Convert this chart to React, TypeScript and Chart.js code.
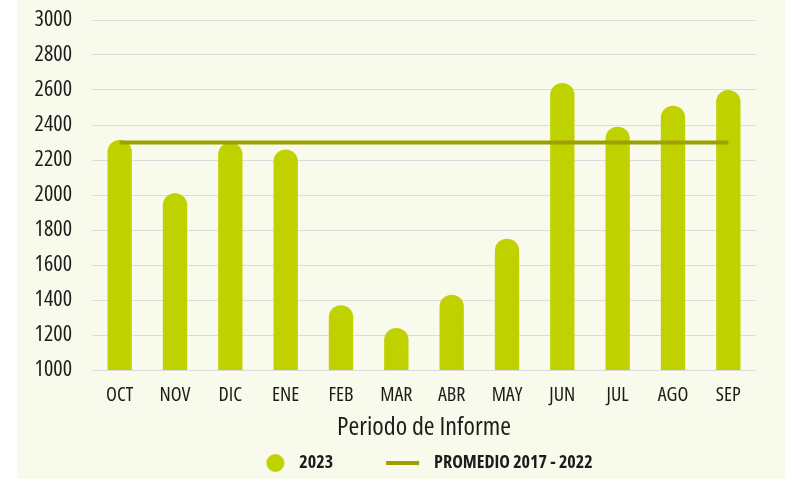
import React, { useEffect, useRef } from 'react';
import { Chart, registerables } from 'chart.js';

Chart.register(...registerables);

const CATEGORIES = ['OCT', 'NOV', 'DIC', 'ENE', 'FEB', 'MAR', 'ABR', 'MAY', 'JUN', 'JUL', 'AGO', 'SEP'];
const VALUES_2023 = [2315, 2010, 2300, 2260, 1370, 1240, 1430, 1750, 2640, 2390, 2510, 2600];
const PROMEDIO_2017_2022 = [2300, 2300, 2300, 2300, 2300, 2300, 2300, 2300, 2300, 2300, 2300, 2300];
const SERIES_LABELS = ['2023', 'PROMEDIO 2017 - 2022'];
const X_TITLE = 'Periodo de Informe';
const Y_MIN = 1000;
const Y_MAX = 3000;
const Y_STEP = 200;

const BAR_COLOR = '#C0D100';
const LINE_COLOR = '#9EA000';
const BG_COLOR = '#F8FAEB';
const TEXT_COLOR = '#1c1c1c';
const GRID_COLOR = '#dcdcdc';
const FONT = "'Open Sans', 'Roboto Condensed', sans-serif";

function makeCircleMarker(): HTMLCanvasElement {
  const c = document.createElement('canvas');
  c.width = 79;
  c.height = 18;
  const ctx = c.getContext('2d')!;
  ctx.fillStyle = BAR_COLOR;
  ctx.beginPath();
  ctx.arc(64, 9, 9, 0, Math.PI * 2);
  ctx.fill();
  return c;
}

function makeLineMarker(): HTMLCanvasElement {
  const c = document.createElement('canvas');
  c.width = 79;
  c.height = 4;
  const ctx = c.getContext('2d')!;
  ctx.fillStyle = LINE_COLOR;
  ctx.fillRect(40, 0, 33, 4);
  return c;
}

const unclipYLabels = {
  id: 'unclipYLabels',
  afterLayout(chart: any) {
    if (chart.scales.y) chart.scales.y.left = 0;
  },
};

export default function App() {
  const canvasRef = useRef<HTMLCanvasElement | null>(null);

  useEffect(() => {
    if (!canvasRef.current) return;
    const circleMarker = makeCircleMarker();
    const lineMarker = makeLineMarker();

    const chart = new Chart(canvasRef.current, {
      type: 'bar',
      data: {
        labels: CATEGORIES,
        datasets: [
          {
            type: 'line',
            label: SERIES_LABELS[1],
            data: PROMEDIO_2017_2022,
            borderColor: LINE_COLOR,
            backgroundColor: LINE_COLOR,
            borderWidth: 4,
            pointRadius: 0,
            fill: false,
            order: 0,
          } as any,
          {
            type: 'bar',
            label: SERIES_LABELS[0],
            data: VALUES_2023,
            backgroundColor: BAR_COLOR,
            borderRadius: 12,
            borderSkipped: 'start',
            barPercentage: 0.44,
            categoryPercentage: 1,
            order: 1,
          } as any,
        ],
      },
      plugins: [unclipYLabels],
      options: {
        responsive: false,
        animation: false,
        devicePixelRatio: 1,
        layout: { padding: { left: 31, right: 29, top: 20, bottom: -3 } },
        plugins: {
          tooltip: { enabled: false },
          legend: {
            position: 'bottom',
            labels: {
              usePointStyle: true,
              pointStyleWidth: 79,
              boxHeight: 18,
              padding: 13,
              color: TEXT_COLOR,
              font: { family: FONT, size: 18, weight: 'bold condensed' as any },
              generateLabels: () => [
                {
                  text: SERIES_LABELS[0],
                  pointStyle: circleMarker as any,
                  fillStyle: BAR_COLOR,
                  strokeStyle: BAR_COLOR,
                  lineWidth: 0,
                  hidden: false,
                  datasetIndex: 1,
                  fontColor: TEXT_COLOR,
                },
                {
                  text: SERIES_LABELS[1],
                  pointStyle: lineMarker as any,
                  fillStyle: LINE_COLOR,
                  strokeStyle: LINE_COLOR,
                  lineWidth: 0,
                  hidden: false,
                  datasetIndex: 0,
                  fontColor: TEXT_COLOR,
                },
              ],
            },
          },
        },
        scales: {
          x: {
            grid: { display: false, drawTicks: false },
            border: { display: false },
            ticks: {
              color: TEXT_COLOR,
              font: { family: FONT, size: 20, weight: 'condensed' as any },
              padding: 13,
              maxRotation: 0,
              autoSkip: false,
            },
            title: {
              display: true,
              text: X_TITLE,
              color: TEXT_COLOR,
              font: { family: FONT, size: 26, weight: 'condensed' as any, lineHeight: '16px' },
              padding: { top: 0, bottom: 5 },
            },
          },
          y: {
            min: Y_MIN,
            max: Y_MAX,
            grid: {
              color: GRID_COLOR,
              drawTicks: true,
              tickLength: 20,
              tickColor: 'rgba(0,0,0,0)',
              lineWidth: 1,
            },
            border: { display: false },
            ticks: {
              stepSize: Y_STEP,
              padding: 0,
              color: TEXT_COLOR,
              font: { family: FONT, size: 22, weight: 'condensed' as any },
              callback: (v: any) => String(v),
            },
            afterFit: (scale: any) => {
              scale.width = 44;
            },
          },
        },
      },
    });

    return () => chart.destroy();
  }, []);

  return (
    <div
      style={{
        position: 'fixed',
        left: 17,
        top: 0,
        width: 768,
        height: 479,
        background: BG_COLOR,
      }}
    >
      <canvas ref={canvasRef} width={768} height={479} style={{ display: 'block' }} />
    </div>
  );
}
